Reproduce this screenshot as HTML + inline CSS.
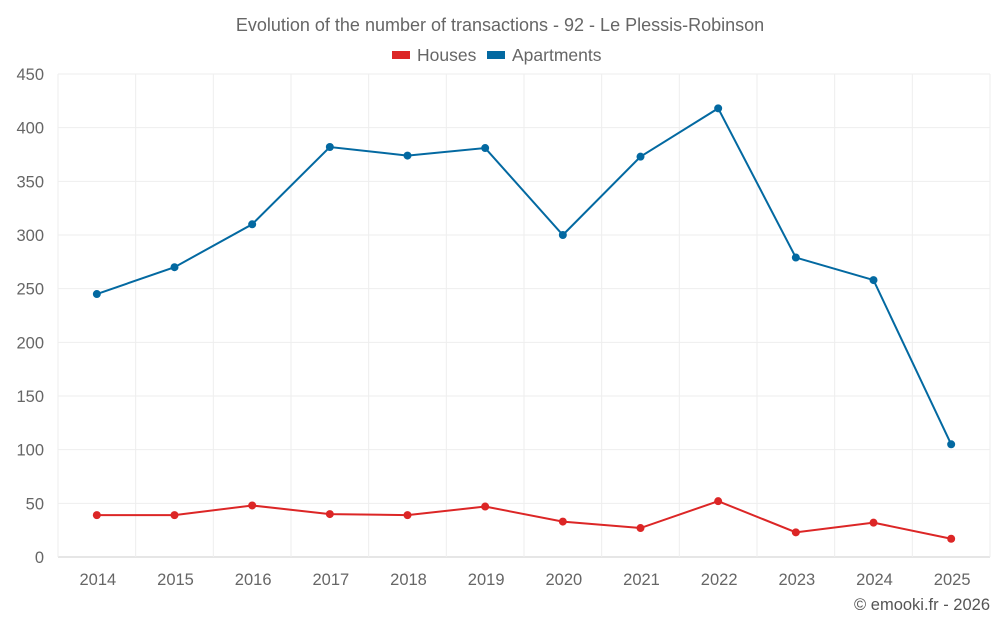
<!DOCTYPE html>
<html><head><meta charset="utf-8"><style>
body{margin:0;background:#fff;font-family:"Liberation Sans",sans-serif}
svg text{font-family:"Liberation Sans",sans-serif}
</style></head><body>
<svg id="c" width="1000" height="625">
<text x="500" y="31" text-anchor="middle" font-size="18" fill="#666">Evolution of the number of transactions - 92 - Le Plessis-Robinson</text>
<g>
<g><rect x="392" y="51" width="18" height="8" fill="#dc2626"/><text x="417" y="61" font-size="17.5" fill="#666">Houses</text></g>
<g><rect x="487" y="51" width="18" height="8" fill="#0369a1"/><text x="512" y="61" font-size="17.5" fill="#666">Apartments</text></g>
</g>
<g id="grid"></g><g id="axes"></g><g id="series"></g>
<text x="990" y="610" text-anchor="end" font-size="16.5" fill="#555">© emooki.fr - 2026</text>
</svg>
<script>
const years=["2014","2015","2016","2017","2018","2019","2020","2021","2022","2023","2024","2025"];
const houses=[39,39,48,40,39,47,33,27,52,23,32,17];
const apartments=[245,270,310,382,374,381,300,373,418,279,258,105];
const yTicks=[0,50,100,150,200,250,300,350,400,450];
const NS="http://www.w3.org/2000/svg";
const L=58,R=990,T=74,B=557,yMax=450;
const bw=(R-L)/years.length;
const xs=i=>L+bw*(i+0.5);
const ys=v=>B-(v/yMax)*(B-T);
function mk(t,a,p){const e=document.createElementNS(NS,t);for(const k in a)e.setAttribute(k,a[k]);p.appendChild(e);return e;}
const g=document.getElementById('grid'),ax=document.getElementById('axes'),s=document.getElementById('series');
yTicks.forEach(v=>{const l=mk('line',{x1:L,x2:R,y1:ys(v),y2:ys(v),stroke:v===0?'#ccc':'#eee'},g);


const t=mk('text',{x:L-14,y:ys(v)+6,'text-anchor':'end','font-size':16.5,fill:'#666'},ax);t.textContent=v;

});
for(let i=0;i<=years.length;i++){const l=mk('line',{x1:L+bw*i,x2:L+bw*i,y1:T,y2:B,stroke:'#eee'},g);

}
years.forEach((y,i)=>{const t=mk('text',{x:xs(i)+1,y:585,'text-anchor':'middle','font-size':16.5,fill:'#666'},ax);t.textContent=y;

});
function series(d,c,n){const p=mk('polyline',{points:d.map((v,i)=>xs(i)+','+ys(v)).join(' '),fill:'none',stroke:c,'stroke-width':2},s);


d.forEach((v,i)=>{const c2=mk('circle',{cx:xs(i),cy:ys(v),r:4,fill:c},s);

});}
series(apartments,'#0369a1','apartments');
series(houses,'#dc2626','houses');
</script>
</body></html>
